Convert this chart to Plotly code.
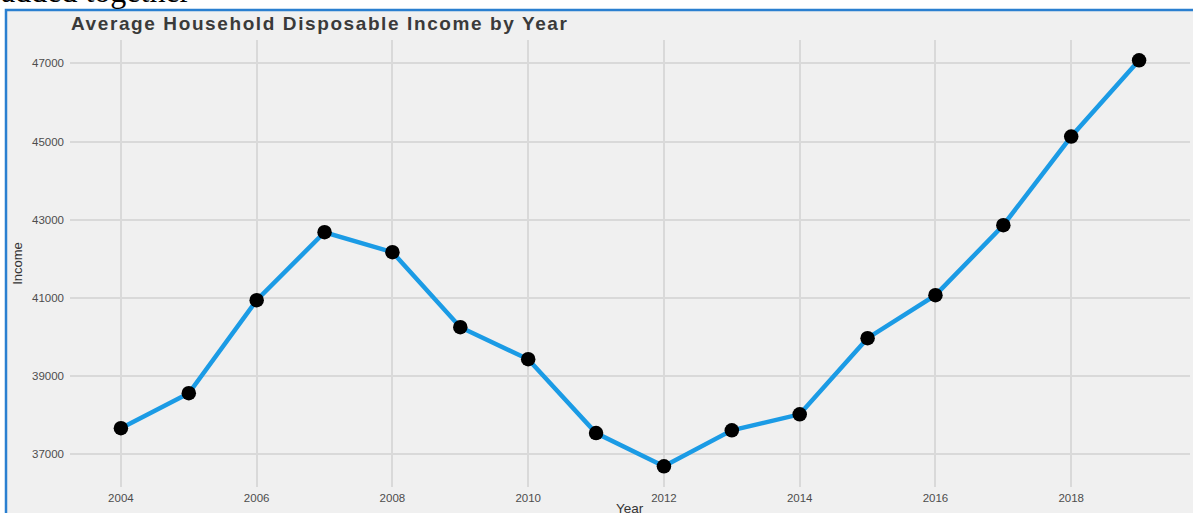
import plotly.graph_objects as go

# Average household disposable income by year
years = [2004, 2005, 2006, 2007, 2008, 2009, 2010, 2011, 2012,
         2013, 2014, 2015, 2016, 2017, 2018, 2019]
income = [37665, 38560, 40940, 42680, 42170, 40250, 39430, 37540, 36690,
          37610, 38020, 39970, 41070, 42860, 45130, 47080]

x_ticks = [2004, 2006, 2008, 2010, 2012, 2014, 2016, 2018]
y_ticks = [37000, 39000, 41000, 43000, 45000, 47000]
y_tick_labels = [str(v) for v in y_ticks]

W, H = 1193, 513
ML, MR, MT, MB = 70, 3, 40, 26
pw, ph = W - ML - MR, H - MT - MB


def px_x(p):
    return (p - ML) / pw


def px_y(p):
    return (H - MB - p) / ph


fig = go.Figure()
fig.add_trace(go.Scatter(
    x=years, y=income, mode="lines+markers",
    line=dict(color="#1b9be5", width=4.5),
    marker=dict(color="#000000", size=14.5),
    hoverinfo="x+y", showlegend=False,
))

font_family = "Liberation Sans, Arial, sans-serif"

fig.update_layout(
    width=W, height=H,
    margin=dict(l=ML, r=MR, t=MT, b=MB, autoexpand=False),
    paper_bgcolor="#ffffff",
    plot_bgcolor="#f0f0f0",
    font=dict(family=font_family, color="#4d4d4d"),
    xaxis=dict(
        range=[2003.25, 2019.75], tickvals=x_ticks,
        showgrid=True, gridcolor="#d9d9d9", gridwidth=1.5,
        zeroline=False, showline=False, ticks="", automargin=False,
        tickfont=dict(size=11.5, color="#4d4d4d"),
        ticklabelstandoff=2,
    ),
    yaxis=dict(
        range=[36160, 47600], tickvals=y_ticks, ticktext=y_tick_labels,
        showgrid=True, gridcolor="#d9d9d9", gridwidth=1.5,
        zeroline=False, showline=False, ticks="", automargin=False,
        tickfont=dict(size=11.5, color="#4d4d4d"),
        ticklabelstandoff=5,
        title=dict(text="Income", font=dict(size=13, color="#333333"), standoff=6),
    ),
    shapes=[
        # framed panel behind the chart
        dict(type="rect", xref="paper", yref="paper", layer="below",
             x0=px_x(6), x1=px_x(1210), y0=px_y(530), y1=px_y(10),
             fillcolor="#f0f0f0", line=dict(color="#2a7fd0", width=2.5)),
    ],
    annotations=[
        dict(text="<b><span style='letter-spacing:1.6px'>"
                  "Average Household Disposable Income by Year</span></b>",
             xref="paper", yref="paper", x=px_x(69), y=px_y(23),
             xanchor="left", yanchor="middle", showarrow=False,
             font=dict(size=19, color="#3a3a3a", family=font_family)),
        dict(text="Year",
             xref="paper", yref="paper", x=px_x(630), y=px_y(508),
             xanchor="center", yanchor="middle", showarrow=False,
             font=dict(size=13.5, color="#333333", family=font_family)),
        dict(text="added together",
             xref="paper", yref="paper", x=px_x(-1), y=px_y(11),
             xanchor="left", yanchor="bottom", showarrow=False,
             font=dict(size=32, color="#000000",
                       family="Liberation Serif, Times New Roman, serif")),
    ],
)

fig.write_html("out.html")
